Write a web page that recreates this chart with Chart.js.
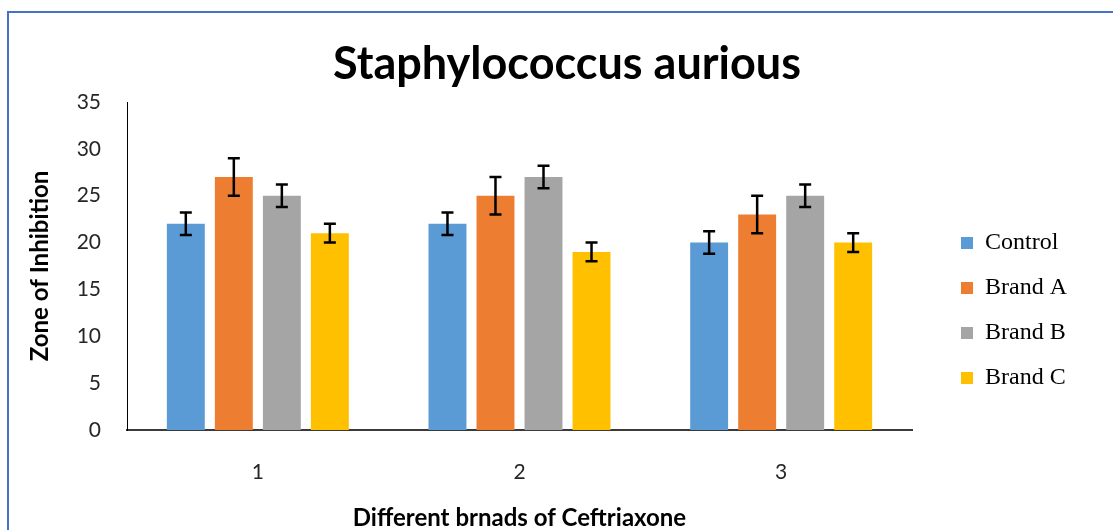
<!DOCTYPE html>
<html>
<head>
<meta charset="utf-8">
<script src="https://cdn.jsdelivr.net/npm/chart.js@4.4.1/dist/chart.umd.min.js"></script>
<style>
  body { margin: 0; background: #fff; overflow: hidden; }
  #frame {
    position: absolute; left: 7px; top: 11px;
    width: 1104px; height: 517px;
    border-left: 2px solid #4472C4; border-top: 2px solid #4472C4;
  }
</style>
</head>
<body>
<div id="frame"><canvas id="myChart" width="1104" height="517"></canvas></div>
<script>
// données
const categories = ['1', '2', '3'];
const seriesNames = ['Control', 'Brand A', 'Brand B', 'Brand C'];
const control = [22, 22, 20];
const brandA = [27, 25, 23];
const brandB = [25, 27, 25];
const brandC = [21, 19, 20];
// barres d'erreur (+/-)
const errControl = [1.2, 1.2, 1.2];
const errBrandA = [2, 2, 2];
const errBrandB = [1.2, 1.2, 1.2];
const errBrandC = [1, 1, 1];
const yTicks = [0, 5, 10, 15, 20, 25, 30, 35];

const colors = ['#5B9BD5', '#ED7D31', '#A5A5A5', '#FFC000'];
const values = [control, brandA, brandB, brandC];
const errors = [errControl, errBrandA, errBrandB, errBrandC];

// dessine les barres d'erreur avec l'échelle y
const errorBars = {
    id: 'errorBars',
    afterDatasetsDraw(chart) {
        const ctx = chart.ctx;
        const y = chart.scales.y;
        ctx.save();
        ctx.strokeStyle = '#000';
        ctx.lineWidth = 2.5;
        chart.data.datasets.forEach((ds, i) => {
            const meta = chart.getDatasetMeta(i);
            meta.data.forEach((bar, j) => {
                const v = ds.data[j];
                const e = errors[i][j];
                const top = y.getPixelForValue(v + e);
                const bot = y.getPixelForValue(v - e);
                ctx.beginPath();
                ctx.moveTo(bar.x, top); ctx.lineTo(bar.x, bot);
                ctx.moveTo(bar.x - 6, top); ctx.lineTo(bar.x + 6, top);
                ctx.moveTo(bar.x - 6, bot); ctx.lineTo(bar.x + 6, bot);
                ctx.stroke();
            });
        });
        ctx.restore();
    }
};

// place la légende (et le titre) comme dans l'original
const legendPlace = {
    id: 'legendPlace',
    beforeLayout(chart) {
        const lg = chart.legend;
        if (lg && !lg._patched) {
            const fit = lg.fit;
            lg.fit = function () { fit.call(this); this.width = 201; };
            lg._patched = true;
        }
    },
    afterLayout(chart) {
        const lg = chart.legend;
        const w = lg.right - lg.left, h = lg.bottom - lg.top;
        lg.left = 931; lg.right = 931 + w;
        lg.top = 197; lg.bottom = 197 + h;
        const t = chart.titleBlock;
        t.left += 6; t.right += 6;
    }
};

const ctx = document.getElementById('myChart');
const chart = new Chart(ctx, {
    type: 'bar',
    data: {
        labels: categories,
        datasets: seriesNames.map((name, i) => ({
            label: name,
            data: values[i],
            backgroundColor: colors[i],
            categoryPercentage: 0.734,
            barPercentage: 0.79
        }))
    },
    options: {
        responsive: false,
        animation: false,
        layout: { padding: 0 },
        plugins: {
            title: {
                display: true,
                text: 'Staphylococcus aurious',
                color: '#000',
                font: { family: 'Lato', size: 45, weight: 'bold', lineHeight: 1.2 },
                padding: { top: 24, bottom: 11 }
            },
            legend: {
                position: 'right',
                align: 'start',
                labels: {
                    boxWidth: 12,
                    boxHeight: 12,
                    padding: 21,
                    color: '#000',
                    font: { family: 'Liberation Serif', size: 24 }
                }
            },
            tooltip: { enabled: false }
        },
        scales: {
            x: {
                grid: { display: false, drawTicks: false },
                border: { display: true, color: '#3a3a3a', width: 2 },
                ticks: { color: '#262626', padding: 30, font: { family: 'Lato', size: 21 } },
                title: {
                    display: true,
                    text: 'Different brnads of Ceftriaxone',
                    color: '#000',
                    font: { family: 'Lato', size: 24, weight: 'bold', lineHeight: 1 },
                    padding: { top: 0, bottom: 0 }
                },
                afterFit(scale) { scale.height = 100; }
            },
            y: {
                min: 0,
                max: 35,
                grid: { display: false, drawTicks: false },
                border: { display: true, color: '#000', width: 1 },
                afterBuildTicks(scale) { scale.ticks = yTicks.map(v => ({ value: v })); },
                ticks: { color: '#262626', padding: 26, font: { family: 'Lato', size: 21 } },
                title: {
                    display: true,
                    text: 'Zone of Inhibition',
                    color: '#000',
                    font: { family: 'Lato', size: 24, weight: 'bold', lineHeight: 1 },
                    padding: { top: 19, bottom: 0 }
                },
                afterFit(scale) { scale.width = 118; }
            }
        }
    },
    plugins: [errorBars, legendPlace]
});
</script>
</body>
</html>
